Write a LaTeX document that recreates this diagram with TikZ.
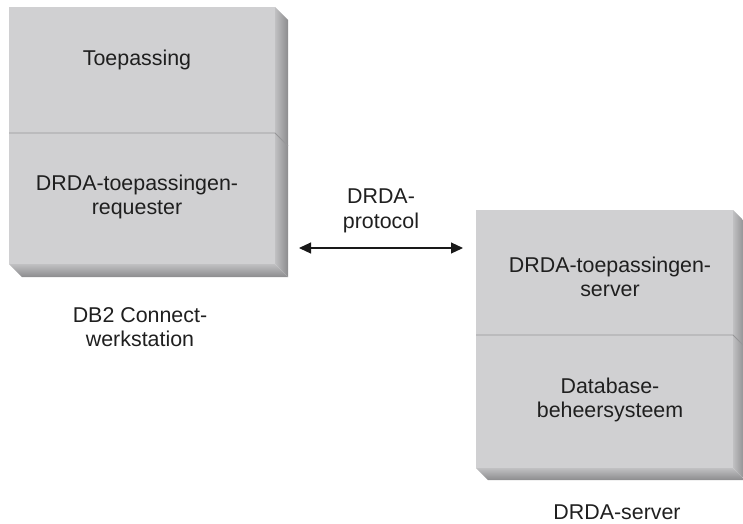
\documentclass[tikz,border=0pt]{standalone}
\usepackage{fontspec}
\setmainfont{Liberation Sans}
\usetikzlibrary{arrows.meta}
\definecolor{face}{RGB}{208,208,210}
\definecolor{sidein}{RGB}{192,192,194}
\definecolor{sideout}{RGB}{140,140,142}
\definecolor{seam}{RGB}{150,150,152}
\tikzset{
  lbl/.style={align=center, font=\fontsize{21.4}{24.5}\selectfont, text=black!88, inner sep=0pt},
  proto arrow/.style={{Triangle[length=12pt,width=11pt]}-{Triangle[length=12pt,width=11pt]}, line width=1.1pt, black!90}
}
% bevelled block: left, top, right, bottom (front face), depth, divider
\newcommand{\bevbox}[6]{%
  \shade[left color=sidein, right color=sideout] (#3,#2) -- (#3+#5,#2+#5) -- (#3+#5,#4+#5) -- (#3,#4) -- cycle;
  \shade[top color=sidein, bottom color=sideout] (#1,#4) -- (#3,#4) -- (#3+#5,#4+#5) -- (#1+#5,#4+#5) -- cycle;
  \fill[face] (#1,#2) rectangle (#3,#4);
  \draw[seam, line width=0.8pt] (#1,#6) -- (#3,#6) -- (#3+#5,#6+#5);
}
\begin{document}
\begin{tikzpicture}[x=1pt,y=-1pt]
\useasboundingbox (0,0) rectangle (743,523);
%\draw[red] (0,0) rectangle (743,523);
\bevbox{9}{7}{275}{264}{13}{133}
\bevbox{476}{210}{733}{468}{12}{335}
\node[lbl] (toep) at (137,60) {Toepassing};
\node[lbl] (req) at (137,197) {DRDA-toepassingen-\\requester};
\node[lbl] (ws) at (140,327) {DB2 Connect-\\werkstation};
\node[lbl] (proto) at (381,211) {DRDA-\\protocol};
\node[lbl] (asrv) at (610,277) {DRDA-toepassingen-\\server};
\node[lbl] (dbms) at (610,400) {Database-\\beheersysteem};
\node[lbl] (srv) at (617,512) {DRDA-server};
\coordinate (al) at (299,248);
\coordinate (ar) at (463,248);
\draw[proto arrow] (al) -- (ar);
\end{tikzpicture}
\end{document}
